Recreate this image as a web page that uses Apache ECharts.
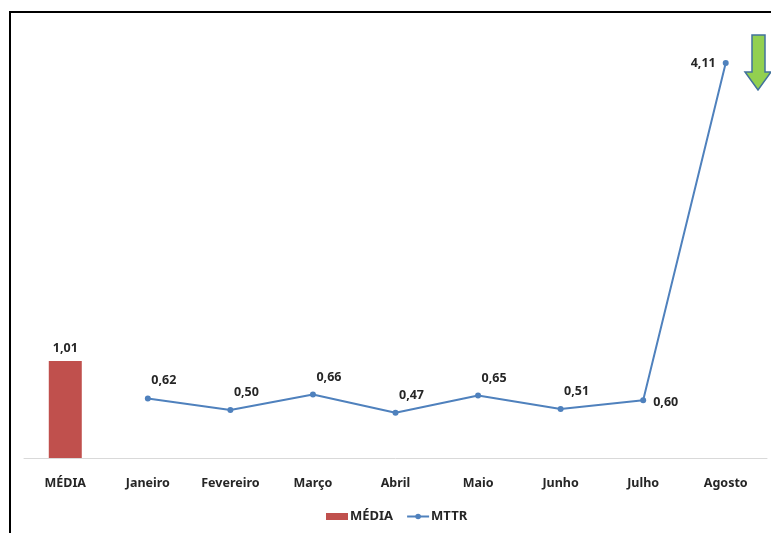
<!DOCTYPE html>
<html>
<head>
<meta charset="utf-8">
<script src="https://cdn.jsdelivr.net/npm/echarts@6/dist/echarts.min.js"></script>
<style>
  html, body { margin: 0; padding: 0; background: #fff; }
  #chart { width: 771px; height: 533px; }
</style>
</head>
<body>
<div id="chart"></div>
<script>
// Categories along the x axis
const categories = ['MÉDIA', 'Janeiro', 'Fevereiro', 'Março', 'Abril', 'Maio', 'Junho', 'Julho', 'Agosto'];
// Average bar (only in the first slot)
const mediaValues = [1.01, null, null, null, null, null, null, null, null];
// Monthly MTTR values
const mttrValues = [null, 0.62, 0.50, 0.66, 0.47, 0.65, 0.51, 0.60, 4.11];

const fmt = v => v.toFixed(2).replace('.', ',');
const labelFont = { fontFamily: 'Noto Sans', fontSize: 12.5, fontWeight: 'bold', color: '#262626' };

// Per-point label placement for the line
const labelPlacement = {
  7: { position: 'right', offset: [2, 2] },
  8: { position: 'left', offset: [-2, 0] }
};

const mttrData = mttrValues.map((v, i) => {
  if (v === null) return null;
  const p = labelPlacement[i] || { position: 'top', offset: [16, -3] };
  return { value: v, label: { position: p.position, offset: p.offset } };
});

const chart = echarts.init(document.getElementById('chart'));
chart.setOption({
  animation: false,
  backgroundColor: '#fff',
  grid: { left: 24, right: 4, top: 25.5, bottom: 75 },
  xAxis: {
    type: 'category',
    data: categories,
    axisLine: { lineStyle: { color: '#d9d9d9', width: 1 } },
    axisTick: { show: false },
    axisLabel: { ...labelFont, margin: 19 }
  },
  yAxis: {
    type: 'value',
    min: 0,
    max: 4.5,
    show: false,
    splitLine: { show: false }
  },
  legend: {
    bottom: 5,
    left: 321,
    itemGap: 13,
    itemWidth: 22,
    itemHeight: 7,
    textStyle: { ...labelFont, fontSize: 13, padding: [0, 0, 0, -3] },
    data: [
      { name: 'MÉDIA', icon: 'rect' },
      { name: 'MTTR' }
    ]
  },
  series: [
    {
      name: 'MÉDIA',
      type: 'bar',
      data: mediaValues,
      barWidth: 33,
      itemStyle: { color: '#C0504D' },
      label: { show: true, position: 'top', distance: 6, ...labelFont, formatter: p => fmt(p.value) }
    },
    {
      name: 'MTTR',
      type: 'line',
      data: mttrData,
      connectNulls: false,
      symbol: 'circle',
      symbolSize: 6,
      lineStyle: { color: '#4F81BD', width: 2 },
      itemStyle: { color: '#4F81BD' },
      label: { show: true, ...labelFont, formatter: p => fmt(p.value) }
    }
  ],
  graphic: [
    {
      type: 'rect',
      shape: { x: 10, y: 12, width: 800, height: 600 },
      style: { fill: 'none', stroke: '#000', lineWidth: 2 },
      silent: true
    },
    {
      type: 'polygon',
      shape: {
        points: [[752, 35], [765, 35], [765, 72], [771, 72], [758, 90], [745, 72], [752, 72]]
      },
      style: { fill: '#92D050', stroke: '#41719C', lineWidth: 1.5 },
      silent: true
    }
  ]
});
</script>
</body>
</html>
